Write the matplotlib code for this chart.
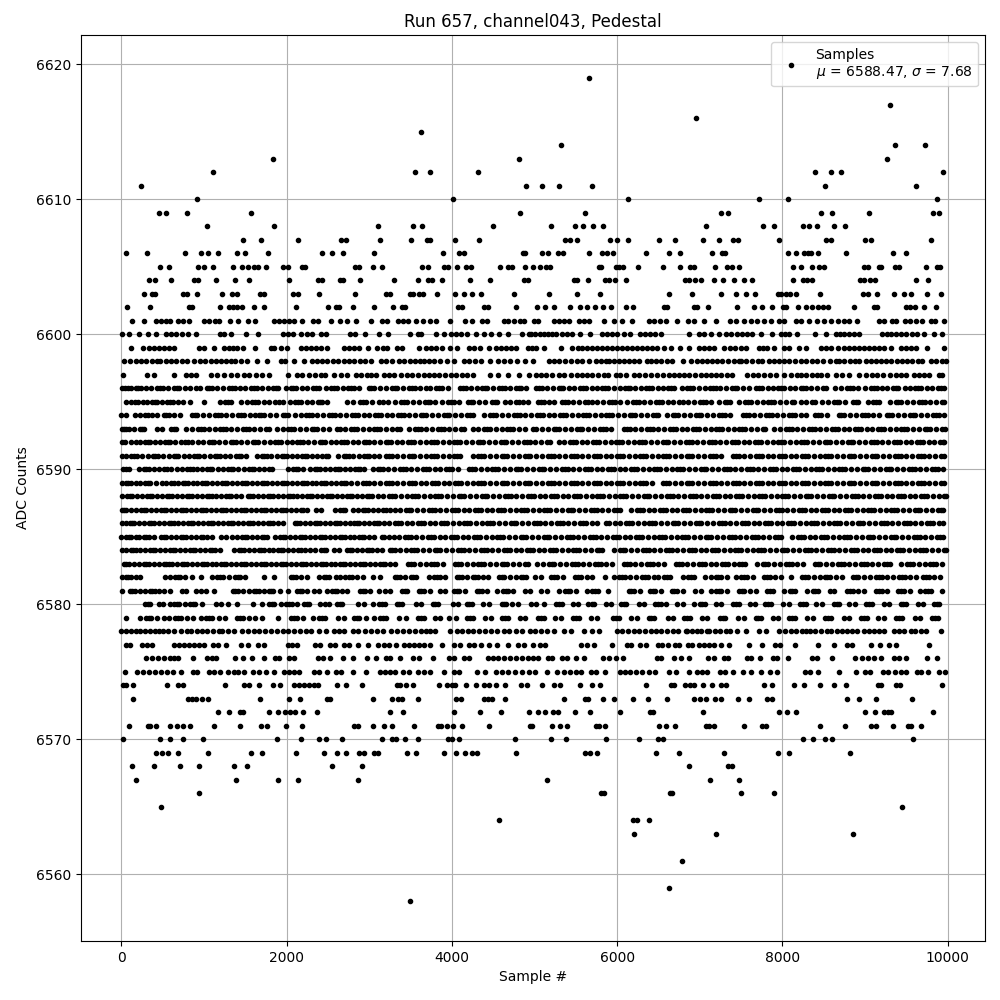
import matplotlib
matplotlib.use("Agg")
import matplotlib.pyplot as plt

# sample numbers, one list per ADC level
adc_6619 = [5660]
adc_6617 = [9300]
adc_6616 = [6950]
adc_6615 = [3620]
adc_6614 = [5320, 9360, 9730]
adc_6613 = [1840, 4810, 9260]
adc_6612 = [1110, 3550, 3740, 4320, 8400, 8590, 8710, 9940]
adc_6611 = [240, 4900, 5090, 5290, 5700, 8520, 9620]
adc_6610 = [916, 4012, 6130, 7717, 8068, 9872]
adc_6609 = [452, 537, 791, 1566, 4823, 5610, 7257, 7341, 8467, 8596, 9053, 9823, 9896]
adc_6608 = [1033, 1845, 3104, 3528, 3637, 4496, 5198, 5489, 5586, 5707, 5828, 7075, 7765, 7898, 8249, 8322, 8419, 8625, 8758]
adc_6607 = [1469, 1687, 2135, 2656, 2717, 3128, 3504, 3697, 3733, 4036, 4327, 5368, 5428, 5513, 5913, 6001, 6130, 6506, 6700, 7039, 7232, 7402, 7462, 7959, 8528, 8588, 9000, 9073, 9799]
adc_6606 = [53, 307, 767, 961, 1046, 1167, 1397, 1494, 1772, 2426, 2547, 2680, 3056, 3891, 4085, 4145, 4860, 4884, 5089, 5162, 5283, 5343, 5658, 5816, 5876, 5949, 6348, 6627, 6760, 7148, 7269, 7305, 8068, 8165, 8262, 8310, 8346, 8431, 8770, 9339, 9497]
adc_6605 = [472, 573, 925, 997, 1106, 1348, 1457, 1530, 1603, 1651, 1748, 1954, 2014, 2184, 2220, 2825, 2874, 3043, 3152, 3637, 3709, 3903, 3951, 4060, 4170, 4230, 4581, 4678, 4727, 4884, 4980, 5065, 5138, 5186, 5779, 5804, 5985, 6022, 6070, 6252, 6554, 6760, 6881, 6930, 7184, 7329, 7390, 7474, 8128, 8225, 8358, 8443, 8504, 8988, 9036, 9170, 9194, 9363, 9412, 9739, 9872, 9908]
adc_6604 = [331, 404, 598, 876, 925, 1142, 1372, 1542, 2026, 2377, 2426, 2644, 2680, 2886, 3298, 3588, 3709, 3758, 3879, 4218, 4460, 4872, 4920, 5477, 5513, 5646, 5852, 5900, 5973, 6106, 6821, 6869, 6942, 7014, 7172, 7281, 7414, 7535, 7632, 8128, 8249, 8298, 8358, 8939, 8988, 9061, 9121, 9618, 9763]
adc_6603 = [271, 368, 404, 743, 791, 912, 1215, 1336, 1397, 1675, 1724, 2075, 2135, 2390, 2825, 3201, 3249, 3491, 3528, 3600, 3649, 3818, 4036, 4145, 4242, 4351, 4751, 5174, 5513, 5791, 6627, 6905, 7257, 7438, 7559, 7668, 7947, 7983, 8044, 8092, 8165, 8455, 8976, 9036, 9146, 9351, 9472, 9557, 9751, 9920]
adc_6602 = [65, 343, 816, 852, 1191, 1300, 1348, 1397, 1457, 1603, 1724, 2111, 2499, 2595, 2632, 2801, 3056, 3286, 3395, 3431, 4072, 4121, 4387, 4436, 4775, 5029, 5126, 5235, 5428, 5549, 5634, 5731, 5828, 5925, 6106, 6191, 6566, 6603, 6930, 6966, 7099, 7450, 7656, 7753, 7874, 8007, 8044, 8189, 8286, 8358, 8431, 8491, 8552, 8867, 9109, 9146, 9497, 9545, 9605, 9715, 9860]
adc_6601 = [125, 271, 416, 477, 537, 586, 682, 743, 816, 997, 1058, 1130, 1179, 1312, 1409, 1530, 1615, 1845, 1905, 1966, 2026, 2087, 2184, 2317, 2377, 2535, 2644, 2729, 2838, 3019, 3152, 3213, 3346, 3407, 3467, 3564, 3649, 3733, 3806, 3976, 4157, 4242, 4363, 4424, 4630, 4678, 4751, 4823, 4872, 4992, 5041, 5235, 5295, 5356, 5416, 5537, 5598, 5658, 5840, 5961, 6058, 6179, 6385, 6445, 6518, 6591, 6724, 6857, 6930, 7051, 7196, 7366, 7438, 7535, 7616, 7696, 7777, 7858, 7959, 8019, 8165, 8225, 8322, 8419, 8504, 8588, 8673, 8746, 8806, 8903, 9170, 9230, 9327, 9376, 9484, 9545, 9618, 9690, 9799, 9848, 9957]
adc_6600 = [12, 85, 210, 319, 416, 537, 598, 658, 731, 803, 900, 1191, 1240, 1324, 1506, 1651, 1954, 2014, 2075, 2172, 2244, 2305, 2414, 2474, 2765, 2826, 2947, 3116, 3225, 3491, 3588, 3625, 3806, 3903, 3984, 4044, 4105, 4186, 4287, 4388, 4468, 4569, 4678, 4847, 4932, 4960, 5010, 5060, 5110, 5160, 5210, 5255, 5335, 5395, 5456, 5549, 5670, 5820, 5880, 5940, 5993, 6082, 6155, 6276, 6336, 6397, 6460, 6534, 6869, 6990, 7051, 7131, 7232, 7313, 7375, 7445, 7515, 7575, 7636, 7737, 7874, 7979, 8030, 8080, 8177, 8395, 8524, 8645, 8700, 8746, 8806, 8870, 8927, 9210, 9260, 9311, 9371, 9440, 9500, 9570, 9634, 9715, 9836, 9937]
adc_6599 = [113, 259, 331, 395, 455, 520, 580, 634, 937, 997, 1118, 1239, 1300, 1355, 1401, 1473, 1618, 1812, 1845, 1925, 2006, 2168, 2230, 2290, 2350, 2420, 2490, 2692, 2750, 2810, 2870, 2983, 3096, 3160, 3217, 3338, 3398, 3600, 3681, 3741, 3810, 3883, 3976, 4065, 4206, 4270, 4340, 4448, 4528, 4590, 4650, 4710, 4771, 4920, 4972, 5012, 5113, 5323, 5456, 5520, 5580, 5640, 5700, 5760, 5820, 5880, 5940, 6000, 6060, 6120, 6180, 6240, 6300, 6360, 6420, 6480, 6566, 6647, 6760, 6869, 6990, 7050, 7110, 7172, 7293, 7360, 7430, 7495, 7555, 7717, 7770, 7818, 7898, 8019, 8080, 8201, 8282, 8463, 8530, 8585, 8673, 8746, 8810, 8870, 8930, 8990, 9050, 9110, 9170, 9230, 9315, 9432, 9500, 9560, 9613, 9751, 9957]
adc_6598 = [29, 109, 170, 235, 300, 365, 432, 472, 540, 600, 665, 735, 795, 876, 945, 1010, 1078, 1138, 1200, 1260, 1320, 1380, 1450, 1522, 1643, 1764, 1925, 1985, 2087, 2208, 2309, 2370, 2430, 2490, 2560, 2625, 2690, 2755, 2820, 2890, 2950, 3015, 3136, 3200, 3277, 3358, 3420, 3490, 3555, 3615, 3665, 3721, 3782, 3860, 3943, 4024, 4145, 4210, 4280, 4347, 4460, 4557, 4630, 4700, 4791, 4880, 4984, 5174, 5240, 5300, 5370, 5440, 5510, 5578, 5658, 5739, 5800, 5860, 5900, 5961, 6020, 6080, 6140, 6203, 6264, 6365, 6405, 6470, 6535, 6600, 6667, 6800, 6889, 6970, 7030, 7090, 7150, 7212, 7273, 7340, 7410, 7474, 7495, 7560, 7630, 7700, 7757, 7838, 7900, 7959, 8019, 8080, 8150, 8220, 8290, 8362, 8423, 8490, 8570, 8645, 8685, 8750, 8820, 8880, 8927, 9008, 9070, 9130, 9190, 9250, 9320, 9390, 9452, 9505, 9573, 9640, 9695, 9795, 9860, 9937, 9977]
adc_6597 = [16, 311, 392, 634, 775, 840, 896, 1078, 1160, 1239, 1320, 1400, 1480, 1542, 1623, 1703, 1784, 2014, 2127, 2188, 2268, 2340, 2410, 2458, 2571, 2652, 2733, 2834, 2900, 2975, 3015, 3080, 3177, 3237, 3300, 3380, 3450, 3520, 3588, 3661, 3720, 3780, 3840, 3920, 3984, 4044, 4120, 4186, 4254, 4460, 4557, 4678, 4811, 4932, 5012, 5075, 5140, 5210, 5295, 5356, 5440, 5517, 5578, 5640, 5700, 5770, 5840, 5888, 5981, 6040, 6102, 6203, 6270, 6340, 6410, 6480, 6550, 6627, 6688, 6748, 6808, 6875, 6940, 7010, 7075, 7131, 7192, 7260, 7330, 7394, 7575, 7640, 7710, 7780, 7850, 7919, 8019, 8100, 8181, 8221, 8290, 8360, 8423, 8463, 8540, 8645, 8725, 8800, 8927, 9008, 9080, 9150, 9220, 9300, 9370, 9432, 9492, 9593, 9650, 9715, 9775, 9896, 9937]
adc_6596 = [5, 45, 110, 170, 235, 300, 360, 430, 500, 560, 640, 700, 770, 830, 900, 950, 1030, 1090, 1160, 1230, 1300, 1370, 1440, 1500, 1570, 1640, 1700, 1770, 1840, 1900, 1990, 2050, 2110, 2180, 2240, 2320, 2390, 2470, 2540, 2610, 2680, 2740, 2810, 2870, 2990, 3060, 3130, 3200, 3270, 3340, 3410, 3480, 3550, 3610, 3680, 3740, 3810, 3880, 3950, 4100, 4170, 4230, 4300, 4360, 4430, 4500, 4570, 4640, 4700, 4770, 4840, 4900, 5020, 5090, 5150, 5220, 5290, 5350, 5420, 5480, 5550, 5620, 5690, 5750, 5820, 5890, 5960, 6030, 6090, 6160, 6220, 6290, 6350, 6420, 6490, 6560, 6620, 6690, 6780, 6850, 6920, 6990, 7060, 7120, 7190, 7250, 7320, 7390, 7450, 7520, 7590, 7680, 7750, 7820, 7890, 7950, 8020, 8090, 8150, 8220, 8290, 8350, 8420, 8490, 8640, 8710, 8780, 8850, 8920, 9000, 9070, 9140, 9200, 9260, 9340, 9400, 9480, 9540, 9610, 9680, 9750, 9810, 9880, 9950]
adc_6595 = [55, 110, 200, 260, 310, 370, 430, 490, 550, 620, 690, 750, 830, 1000, 1190, 1250, 1320, 1450, 1520, 1580, 1650, 1730, 1780, 1860, 1950, 2040, 2100, 2170, 2250, 2310, 2380, 2430, 2490, 2730, 2800, 2890, 2960, 3030, 3120, 3220, 3310, 3380, 3460, 3530, 3600, 3670, 3740, 3800, 3880, 3950, 4020, 4090, 4190, 4260, 4330, 4400, 4480, 4550, 4640, 4700, 4780, 4860, 4920, 5040, 5110, 5170, 5240, 5330, 5400, 5470, 5540, 5610, 5690, 5760, 5830, 5900, 5970, 6040, 6120, 6190, 6260, 6330, 6400, 6470, 6540, 6620, 6680, 6800, 6860, 6930, 7000, 7080, 7140, 7230, 7300, 7370, 7480, 7550, 7620, 7690, 7760, 7830, 7900, 7970, 8040, 8110, 8220, 8290, 8360, 8480, 8550, 8620, 8690, 8760, 8850, 8920, 9030, 9100, 9170, 9300, 9370, 9440, 9510, 9580, 9650, 9720, 9790, 9860, 9930]
adc_6594 = [0, 55, 160, 220, 290, 370, 430, 510, 570, 640, 710, 850, 920, 990, 1060, 1130, 1200, 1270, 1340, 1410, 1480, 1550, 1620, 1660, 1730, 1800, 1870, 1950, 2020, 2100, 2170, 2230, 2300, 2370, 2440, 2510, 2580, 2650, 2720, 2790, 2860, 2930, 3000, 3070, 3140, 3210, 3280, 3350, 3420, 3480, 3550, 3620, 3690, 3760, 3830, 3900, 3970, 4040, 4110, 4180, 4250, 4390, 4460, 4530, 4610, 4680, 4750, 4820, 4890, 4960, 5030, 5100, 5170, 5240, 5310, 5380, 5450, 5520, 5590, 5660, 5730, 5800, 5870, 5940, 6010, 6080, 6150, 6220, 6290, 6360, 6430, 6500, 6600, 6670, 6740, 6810, 6880, 6950, 7020, 7090, 7160, 7230, 7300, 7370, 7520, 7590, 7660, 7730, 7800, 7870, 7940, 8010, 8080, 8150, 8220, 8290, 8400, 8470, 8540, 8680, 8750, 8820, 8890, 8960, 9030, 9100, 9170, 9260, 9330, 9400, 9470, 9540, 9610, 9680, 9750, 9820, 9890, 9950]
adc_6593 = [8, 30, 90, 150, 220, 270, 430, 490, 600, 660, 780, 850, 930, 1000, 1060, 1130, 1190, 1260, 1330, 1400, 1470, 1540, 1610, 1680, 1750, 1880, 1950, 2020, 2090, 2160, 2230, 2300, 2370, 2440, 2510, 2640, 2710, 2780, 2850, 2920, 2990, 3060, 3130, 3200, 3270, 3340, 3480, 3550, 3620, 3690, 3760, 3830, 3900, 3970, 4040, 4110, 4250, 4320, 4390, 4460, 4530, 4600, 4670, 4740, 4810, 4880, 5020, 5090, 5160, 5230, 5300, 5370, 5440, 5510, 5580, 5650, 5720, 5790, 5860, 5930, 6080, 6150, 6220, 6290, 6360, 6430, 6500, 6570, 6640, 6710, 6780, 6850, 6920, 6990, 7060, 7130, 7200, 7270, 7340, 7410, 7480, 7550, 7620, 7690, 7760, 7900, 7970, 8040, 8110, 8180, 8250, 8320, 8390, 8460, 8530, 8600, 8670, 8740, 8810, 8880, 8950, 9020, 9090, 9160, 9230, 9300, 9370, 9440, 9510, 9580, 9650, 9720, 9790, 9860, 9930]
adc_6592 = [4, 40, 170, 230, 290, 350, 410, 470, 530, 590, 650, 720, 770, 850, 930, 990, 1060, 1120, 1180, 1250, 1320, 1390, 1450, 1520, 1590, 1650, 1720, 1800, 1860, 1930, 2000, 2060, 2130, 2200, 2260, 2330, 2400, 2460, 2530, 2600, 2660, 2730, 2800, 2860, 2930, 3000, 3060, 3130, 3200, 3260, 3330, 3400, 3470, 3540, 3610, 3680, 3750, 3820, 3890, 3960, 4030, 4100, 4170, 4240, 4310, 4380, 4450, 4520, 4590, 4660, 4730, 4800, 4870, 4940, 5010, 5080, 5150, 5290, 5360, 5430, 5500, 5570, 5640, 5710, 5780, 5850, 5920, 5990, 6060, 6130, 6200, 6270, 6340, 6410, 6480, 6550, 6620, 6690, 6760, 6830, 6900, 6970, 7040, 7110, 7180, 7250, 7320, 7390, 7460, 7530, 7600, 7670, 7740, 7810, 7880, 7950, 8020, 8090, 8160, 8230, 8300, 8370, 8440, 8510, 8580, 8650, 8720, 8790, 8860, 8930, 9000, 9070, 9140, 9210, 9280, 9350, 9420, 9490, 9560, 9630, 9700, 9770, 9840, 9910, 9960]
adc_6591 = [6, 50, 120, 190, 250, 320, 380, 440, 500, 570, 630, 690, 760, 820, 880, 940, 1000, 1070, 1130, 1190, 1250, 1310, 1390, 1450, 1510, 1640, 1700, 1760, 1810, 1880, 1940, 2000, 2060, 2130, 2190, 2250, 2310, 2370, 2430, 2500, 2620, 2690, 2750, 2800, 2870, 2940, 3000, 3060, 3120, 3200, 3270, 3340, 3410, 3480, 3540, 3610, 3680, 3750, 3820, 3890, 3960, 4030, 4100, 4250, 4320, 4390, 4460, 4530, 4600, 4670, 4740, 4810, 4880, 4950, 5020, 5090, 5160, 5230, 5300, 5370, 5440, 5510, 5580, 5650, 5720, 5790, 5860, 5930, 6000, 6070, 6140, 6210, 6280, 6350, 6420, 6490, 6560, 6630, 6700, 6770, 6840, 6910, 6980, 7050, 7120, 7190, 7260, 7400, 7470, 7540, 7610, 7680, 7750, 7820, 7890, 7960, 8030, 8100, 8170, 8240, 8310, 8380, 8450, 8520, 8590, 8660, 8730, 8800, 8870, 8940, 9010, 9080, 9150, 9220, 9290, 9360, 9430, 9500, 9570, 9640, 9710, 9780, 9850, 9920]
adc_6590 = [20, 90, 210, 270, 330, 390, 450, 510, 600, 670, 730, 790, 860, 920, 980, 1040, 1100, 1170, 1230, 1290, 1350, 1410, 1480, 1540, 1610, 1670, 1730, 1790, 2020, 2080, 2140, 2200, 2280, 2340, 2400, 2460, 2520, 2580, 2650, 2710, 2770, 2830, 2890, 2930, 3040, 3100, 3170, 3230, 3300, 3370, 3440, 3510, 3580, 3650, 3720, 3790, 3860, 3930, 4000, 4070, 4210, 4280, 4350, 4420, 4490, 4560, 4630, 4700, 4770, 4840, 4910, 4980, 5050, 5120, 5190, 5260, 5330, 5400, 5470, 5540, 5610, 5680, 5750, 5820, 5890, 5960, 6030, 6100, 6170, 6240, 6310, 6380, 6450, 6520, 6590, 6660, 6730, 6800, 6870, 6940, 7010, 7080, 7150, 7220, 7290, 7360, 7430, 7500, 7570, 7640, 7710, 7780, 7850, 7920, 7990, 8060, 8130, 8200, 8270, 8340, 8410, 8480, 8550, 8620, 8690, 8760, 8830, 8900, 8970, 9040, 9110, 9180, 9250, 9320, 9390, 9460, 9530, 9600, 9670, 9740, 9810, 9880, 9945]
adc_6589 = [3, 50, 110, 170, 230, 290, 350, 420, 490, 600, 640, 680, 740, 800, 860, 920, 980, 1040, 1100, 1160, 1220, 1280, 1340, 1400, 1460, 1520, 1580, 1640, 1700, 1760, 1820, 1880, 1940, 2000, 2060, 2120, 2180, 2240, 2300, 2360, 2420, 2480, 2540, 2600, 2660, 2720, 2780, 2850, 2920, 2990, 3060, 3130, 3200, 3270, 3340, 3410, 3480, 3550, 3620, 3690, 3760, 3830, 3900, 3970, 4040, 4110, 4180, 4250, 4320, 4390, 4460, 4530, 4600, 4670, 4740, 4810, 4880, 4950, 5020, 5090, 5160, 5230, 5300, 5370, 5440, 5510, 5580, 5650, 5720, 5790, 5860, 5930, 6000, 6070, 6140, 6210, 6280, 6350, 6420, 6560, 6630, 6700, 6770, 6840, 6910, 6980, 7050, 7120, 7190, 7260, 7330, 7400, 7470, 7540, 7610, 7680, 7750, 7820, 7890, 7960, 8030, 8100, 8170, 8240, 8310, 8380, 8450, 8520, 8590, 8660, 8730, 8800, 8870, 8940, 9010, 9080, 9150, 9220, 9290, 9360, 9430, 9500, 9570, 9640, 9710, 9780, 9850, 9920]
adc_6588 = [10, 70, 130, 190, 250, 310, 370, 430, 490, 550, 610, 670, 730, 790, 850, 910, 970, 1030, 1090, 1150, 1210, 1270, 1330, 1390, 1450, 1530, 1590, 1650, 1710, 1770, 1830, 1890, 1950, 2010, 2070, 2130, 2190, 2250, 2310, 2370, 2430, 2490, 2550, 2610, 2670, 2730, 2790, 2850, 2910, 2970, 3030, 3100, 3170, 3240, 3310, 3380, 3450, 3520, 3590, 3660, 3730, 3800, 3870, 3940, 4010, 4080, 4150, 4220, 4290, 4360, 4430, 4500, 4570, 4640, 4710, 4780, 4850, 4920, 4990, 5060, 5130, 5200, 5270, 5340, 5410, 5480, 5550, 5620, 5690, 5760, 5830, 5900, 5970, 6040, 6110, 6180, 6250, 6320, 6390, 6460, 6530, 6600, 6670, 6740, 6810, 6880, 6950, 7020, 7090, 7160, 7230, 7300, 7370, 7440, 7510, 7580, 7650, 7720, 7790, 7860, 7930, 8000, 8070, 8140, 8210, 8280, 8350, 8420, 8490, 8560, 8630, 8700, 8770, 8840, 8910, 8980, 9050, 9120, 9190, 9260, 9330, 9400, 9470, 9540, 9610, 9680, 9750, 9820, 9890, 9950]
adc_6587 = [2, 60, 120, 180, 240, 300, 360, 420, 480, 540, 600, 660, 720, 780, 840, 900, 960, 1020, 1080, 1140, 1200, 1260, 1320, 1390, 1450, 1510, 1570, 1630, 1690, 1750, 1810, 1870, 1930, 1990, 2050, 2110, 2170, 2240, 2350, 2420, 2590, 2650, 2710, 2800, 2860, 2920, 2980, 3040, 3100, 3160, 3250, 3310, 3370, 3440, 3510, 3580, 3650, 3720, 3790, 3860, 3930, 4000, 4070, 4140, 4210, 4280, 4350, 4420, 4490, 4560, 4630, 4700, 4770, 4840, 4910, 4980, 5050, 5120, 5190, 5260, 5330, 5400, 5470, 5540, 5610, 5680, 5750, 5820, 5890, 5960, 6030, 6170, 6240, 6310, 6380, 6450, 6520, 6590, 6660, 6730, 6800, 6870, 6940, 7010, 7080, 7150, 7220, 7290, 7360, 7430, 7500, 7570, 7640, 7710, 7780, 7850, 7920, 7990, 8060, 8130, 8200, 8270, 8340, 8410, 8480, 8550, 8620, 8690, 8760, 8830, 8900, 8970, 9040, 9110, 9180, 9250, 9320, 9390, 9460, 9530, 9600, 9670, 9740, 9810, 9880, 9940]
adc_6586 = [7, 60, 100, 150, 210, 270, 330, 390, 450, 510, 570, 630, 690, 750, 810, 870, 930, 990, 1050, 1110, 1170, 1230, 1290, 1350, 1410, 1470, 1530, 1590, 1650, 1710, 1770, 1830, 1890, 1950, 2100, 2160, 2220, 2280, 2340, 2400, 2460, 2520, 2580, 2640, 2700, 2760, 2820, 2880, 2940, 3000, 3060, 3120, 3180, 3240, 3310, 3380, 3450, 3520, 3590, 3660, 3730, 3800, 3870, 3940, 4010, 4080, 4150, 4220, 4290, 4360, 4430, 4500, 4570, 4640, 4710, 4780, 4850, 4920, 4990, 5060, 5130, 5200, 5270, 5340, 5410, 5480, 5550, 5620, 5690, 5760, 5900, 5970, 6040, 6110, 6180, 6250, 6320, 6390, 6460, 6530, 6600, 6670, 6740, 6810, 6880, 6950, 7020, 7090, 7160, 7230, 7300, 7370, 7440, 7510, 7580, 7650, 7720, 7790, 7860, 7930, 8000, 8070, 8140, 8210, 8280, 8350, 8420, 8490, 8560, 8630, 8700, 8770, 8840, 8910, 8980, 9050, 9120, 9190, 9260, 9330, 9400, 9470, 9540, 9610, 9680, 9750, 9820, 9890, 9945]
adc_6585 = [0, 60, 120, 180, 210, 270, 330, 390, 480, 540, 600, 660, 720, 780, 840, 900, 960, 1040, 1100, 1200, 1260, 1340, 1400, 1460, 1520, 1580, 1640, 1700, 1760, 1860, 1920, 1980, 2040, 2100, 2160, 2220, 2280, 2340, 2400, 2460, 2520, 2580, 2640, 2700, 2760, 2820, 2880, 2940, 3000, 3060, 3180, 3240, 3300, 3360, 3430, 3500, 3570, 3640, 3710, 3780, 3850, 3920, 3990, 4060, 4130, 4200, 4270, 4340, 4410, 4480, 4550, 4620, 4690, 4760, 4830, 4900, 4970, 5040, 5110, 5180, 5250, 5320, 5390, 5460, 5530, 5600, 5670, 5740, 5810, 5880, 5950, 6020, 6090, 6160, 6230, 6300, 6370, 6440, 6510, 6580, 6650, 6720, 6790, 6860, 6930, 7000, 7070, 7140, 7210, 7280, 7350, 7420, 7490, 7560, 7630, 7700, 7770, 7840, 7910, 7980, 8120, 8190, 8260, 8330, 8400, 8470, 8540, 8610, 8680, 8750, 8820, 8890, 8960, 9030, 9100, 9170, 9240, 9310, 9380, 9450, 9520, 9590, 9660, 9730, 9800, 9870, 9940]
adc_6584 = [5, 50, 110, 170, 230, 290, 350, 410, 470, 530, 590, 650, 710, 770, 830, 890, 950, 1010, 1070, 1130, 1190, 1360, 1420, 1480, 1540, 1600, 1660, 1720, 1780, 1840, 1900, 1960, 2020, 2080, 2140, 2220, 2280, 2340, 2420, 2480, 2570, 2630, 2730, 2790, 2850, 2910, 2970, 3030, 3090, 3150, 3250, 3310, 3370, 3440, 3510, 3580, 3650, 3720, 3790, 3860, 3930, 4000, 4070, 4140, 4210, 4280, 4350, 4420, 4490, 4560, 4630, 4700, 4770, 4840, 4910, 4980, 5050, 5120, 5190, 5260, 5330, 5400, 5470, 5540, 5610, 5680, 5750, 5820, 5960, 6030, 6100, 6170, 6240, 6310, 6380, 6450, 6520, 6590, 6660, 6730, 6800, 6870, 6940, 7010, 7080, 7150, 7220, 7290, 7360, 7430, 7500, 7570, 7640, 7710, 7780, 7850, 7920, 7990, 8060, 8130, 8200, 8270, 8340, 8410, 8480, 8550, 8620, 8690, 8760, 8830, 8900, 8970, 9040, 9110, 9180, 9250, 9320, 9390, 9460, 9530, 9600, 9670, 9740, 9810, 9880, 9950]
adc_6583 = [30, 90, 150, 210, 270, 330, 390, 450, 510, 570, 610, 670, 730, 790, 850, 910, 970, 1030, 1090, 1150, 1210, 1270, 1330, 1390, 1450, 1510, 1570, 1630, 1690, 1750, 1810, 1870, 1930, 1990, 2050, 2110, 2170, 2230, 2290, 2350, 2410, 2470, 2530, 2590, 2650, 2710, 2770, 2830, 2890, 2950, 3010, 3070, 3130, 3190, 3250, 3310, 3470, 3540, 3610, 3680, 3750, 3820, 3890, 4040, 4110, 4180, 4250, 4320, 4390, 4460, 4530, 4600, 4670, 4740, 4810, 4880, 5030, 5100, 5170, 5240, 5310, 5380, 5450, 5520, 5590, 5660, 5730, 5800, 5870, 5940, 6080, 6150, 6220, 6290, 6360, 6430, 6500, 6570, 6710, 6780, 6850, 6920, 6990, 7060, 7130, 7200, 7270, 7340, 7410, 7480, 7550, 7690, 7760, 7830, 7900, 7970, 8040, 8110, 8180, 8250, 8390, 8460, 8530, 8600, 8670, 8740, 8810, 8880, 8950, 9020, 9090, 9160, 9230, 9300, 9440, 9510, 9580, 9650, 9720, 9790, 9860, 9930]
adc_6582 = [10, 50, 110, 170, 230, 530, 590, 650, 710, 770, 850, 960, 1090, 1160, 1230, 1300, 1370, 1440, 1500, 1730, 1850, 2050, 2110, 2170, 2240, 2390, 2450, 2510, 2600, 2650, 2710, 2790, 2850, 2920, 3050, 3130, 3310, 3370, 3430, 3500, 3560, 3720, 3780, 3850, 3910, 4060, 4120, 4180, 4250, 4320, 4380, 4440, 4570, 4630, 4700, 4770, 4830, 4900, 5010, 5080, 5200, 5270, 5340, 5490, 5560, 5640, 5700, 5850, 5960, 6020, 6090, 6160, 6230, 6300, 6370, 6440, 6500, 6570, 6640, 6800, 6860, 6930, 7060, 7130, 7190, 7260, 7330, 7440, 7500, 7570, 7640, 7780, 7850, 7910, 7980, 8100, 8240, 8310, 8380, 8450, 8510, 8580, 8650, 8720, 8850, 8920, 8990, 9060, 9130, 9200, 9270, 9340, 9410, 9480, 9550, 9620, 9700, 9770, 9840, 9910]
adc_6581 = [8, 100, 160, 220, 280, 340, 400, 460, 520, 590, 730, 780, 900, 960, 1020, 1120, 1350, 1410, 1470, 1540, 1600, 1660, 1720, 1780, 1840, 1920, 2010, 2120, 2190, 2250, 2330, 2390, 2490, 2550, 2610, 2670, 2730, 2890, 2950, 3010, 3120, 3190, 3250, 3400, 3460, 3600, 3660, 3730, 3850, 3910, 4030, 4090, 4160, 4300, 4360, 4430, 4550, 4620, 4680, 4740, 4880, 4950, 5080, 5150, 5300, 5370, 5430, 5500, 5630, 5700, 5770, 5890, 6140, 6200, 6280, 6400, 6460, 6530, 6660, 6720, 6800, 6940, 7010, 7130, 7200, 7260, 7330, 7480, 7540, 7610, 7680, 7810, 7880, 8020, 8090, 8150, 8300, 8370, 8430, 8570, 8630, 8780, 8850, 8920, 8990, 9130, 9200, 9260, 9400, 9470, 9540, 9670, 9730, 9800, 9930]
adc_6580 = [290, 350, 450, 500, 590, 640, 700, 770, 830, 890, 970, 1140, 1210, 1290, 1400, 1590, 1700, 1790, 1850, 1930, 1990, 2060, 2130, 2210, 2270, 2400, 2460, 2510, 2610, 2670, 2860, 2930, 3050, 3120, 3190, 3330, 3400, 3560, 3630, 3770, 3830, 4010, 4070, 4180, 4240, 4380, 4450, 4600, 4660, 4730, 4800, 4960, 5020, 5120, 5260, 5330, 5460, 5520, 5650, 5720, 5860, 5930, 6050, 6110, 6260, 6330, 6460, 6530, 6590, 6730, 6800, 6930, 7000, 7060, 7200, 7260, 7400, 7470, 7610, 7670, 7790, 7860, 8010, 8080, 8210, 8280, 8410, 8480, 8620, 8690, 8810, 8880, 9010, 9080, 9230, 9290, 9430, 9500, 9640, 9700, 9830, 9900]
adc_6579 = [50, 230, 300, 360, 430, 510, 570, 650, 720, 790, 870, 960, 1020, 1100, 1180, 1250, 1400, 1470, 1540, 1620, 1700, 1900, 2050, 2120, 2200, 2320, 2390, 2460, 2620, 2690, 2810, 2880, 2960, 3060, 3130, 3200, 3360, 3440, 3590, 3660, 3790, 3850, 3970, 4050, 4180, 4250, 4400, 4470, 4600, 4680, 4820, 4890, 5040, 5110, 5250, 5320, 5470, 5540, 5680, 5750, 5950, 6020, 6170, 6240, 6380, 6450, 6610, 6670, 6810, 6880, 7030, 7090, 7240, 7310, 7460, 7530, 7680, 7740, 7880, 7950, 8080, 8150, 8300, 8370, 8520, 8590, 8740, 8810, 8950, 9020, 9160, 9230, 9380, 9450, 9600, 9670, 9810, 9880]
adc_6578 = [0, 50, 110, 170, 230, 290, 350, 400, 450, 500, 560, 630, 715, 795, 845, 915, 975, 1040, 1110, 1180, 1220, 1290, 1360, 1460, 1530, 1600, 1670, 1740, 1810, 1880, 1950, 2020, 2090, 2160, 2230, 2290, 2390, 2480, 2570, 2630, 2690, 2800, 2860, 2950, 3020, 3090, 3170, 3260, 3340, 3410, 3480, 3550, 3620, 3680, 3740, 3800, 3976, 4065, 4125, 4190, 4260, 4330, 4400, 4470, 4550, 4630, 4690, 4770, 4850, 4950, 5010, 5080, 5150, 5235, 5356, 5436, 5598, 5700, 5779, 6001, 6062, 6130, 6200, 6270, 6340, 6405, 6465, 6530, 6600, 6670, 6740, 6830, 6850, 6910, 6970, 7010, 7090, 7111, 7180, 7250, 7313, 7366, 7454, 7559, 7717, 7801, 7959, 8030, 8100, 8170, 8240, 8282, 8334, 8400, 8470, 8544, 8585, 8665, 8725, 8786, 8847, 8907, 8988, 9050, 9110, 9170, 9230, 9351, 9410, 9472, 9553, 9610, 9674, 9735, 9916]
adc_6577 = [53, 101, 246, 307, 368, 634, 694, 755, 816, 876, 937, 997, 1106, 1167, 1264, 1441, 1530, 1651, 1724, 2014, 2063, 2123, 2341, 2402, 2523, 2583, 2692, 2753, 2862, 2983, 3104, 3177, 3237, 3322, 3419, 3479, 3540, 3600, 3661, 3733, 3879, 4024, 4097, 4206, 4266, 4351, 4448, 4545, 4678, 4799, 4872, 4980, 5065, 5126, 5561, 5634, 5719, 5937, 6118, 6167, 6276, 6348, 6494, 6542, 6615, 6700, 6748, 6857, 6905, 6990, 7051, 7111, 7172, 7257, 7353, 7596, 7753, 7910, 7971, 8153, 8431, 8625, 8782, 8843, 9073, 9182, 9290, 9376, 9775]
adc_6576 = [295, 367, 440, 513, 585, 634, 682, 864, 1034, 1094, 1142, 1372, 1473, 1578, 1724, 1857, 1905, 2026, 2087, 2377, 2438, 2523, 2680, 2801, 2971, 3080, 3201, 3249, 3370, 3528, 3600, 3770, 3964, 4024, 4145, 4206, 4436, 4496, 4557, 4630, 4702, 4775, 4847, 4920, 4980, 5041, 5162, 5210, 5331, 5392, 5501, 5598, 5828, 5900, 5985, 6070, 6482, 6530, 6688, 6772, 6869, 7099, 7172, 7293, 7341, 7571, 7620, 7729, 7886, 7935, 8068, 8358, 8419, 8600, 8879, 8964, 9036, 9109, 9194, 9351, 9412, 9497, 9751, 9872]
adc_6575 = [40, 186, 259, 331, 404, 477, 549, 622, 719, 864, 912, 1058, 1118, 1191, 1288, 1360, 1409, 1482, 1590, 1663, 1748, 1845, 1966, 2026, 2087, 2147, 2329, 2390, 2487, 2595, 2656, 2801, 2959, 3128, 3189, 3249, 3310, 3407, 3479, 3588, 3661, 3733, 3903, 4024, 4085, 4303, 4399, 4533, 4605, 4678, 4763, 4847, 4932, 5004, 5150, 5271, 5356, 5428, 5501, 5561, 5682, 5743, 5852, 6034, 6094, 6155, 6227, 6300, 6385, 6457, 6627, 6712, 6869, 6966, 7027, 7087, 7244, 7305, 7402, 7523, 7620, 7741, 7850, 7935, 8274, 8334, 8431, 8685, 8891, 9000, 9061, 9218, 9278, 9363, 9436, 9497, 9630, 9678, 9763, 9896, 9969]
adc_6574 = [16, 53, 137, 549, 682, 743, 1251, 1482, 1542, 1663, 1832, 1917, 2087, 2147, 2208, 2268, 2329, 2377, 2608, 2717, 2910, 3334, 3370, 3443, 3528, 3843, 3939, 4000, 4036, 4170, 4290, 4387, 4448, 4533, 4642, 4835, 4908, 5089, 5235, 5307, 5549, 5695, 5791, 6348, 6651, 6688, 6821, 6881, 6930, 7039, 7148, 7257, 7317, 7777, 7874, 8140, 8261, 8455, 8625, 8770, 9157, 9194, 9376, 9424, 9932]
adc_6573 = [137, 803, 852, 900, 973, 1046, 1675, 2026, 2160, 2487, 2523, 3043, 3274, 3346, 3395, 3588, 4048, 4109, 4387, 4436, 4484, 4642, 5356, 5610, 5646, 5828, 5961, 6191, 6373, 6603, 6930, 7002, 7075, 7184, 7257, 7462, 7596, 7813, 7874, 8782, 8927, 9133, 9569]
adc_6572 = [1167, 1300, 1433, 1469, 1784, 1893, 1978, 2038, 2099, 2196, 2365, 3249, 3407, 4024, 4339, 4593, 4932, 5041, 5126, 5222, 5283, 5489, 5670, 6034, 6397, 6433, 7039, 7959, 8056, 8165, 9000, 9121, 9230, 9278, 9315, 9823]
adc_6571 = [89, 319, 343, 416, 586, 670, 743, 828, 1118, 1433, 1687, 1760, 1990, 2184, 2813, 2862, 3043, 3177, 3274, 3540, 3830, 3867, 3939, 4012, 4121, 4448, 4944, 4968, 5210, 5307, 5392, 5743, 5779, 5852, 6506, 6591, 6700, 7075, 7111, 7172, 7531, 7753, 7801, 8455, 8758, 9073, 9133, 9339, 9521, 9557, 9678]
adc_6570 = [16, 464, 586, 743, 985, 1881, 2172, 2390, 2474, 2668, 3152, 3274, 3322, 3431, 3588, 3952, 4000, 4085, 4763, 5198, 5380, 5864, 6264, 6494, 6554, 8249, 8370, 8516, 8600, 9581]
adc_6569 = [416, 489, 561, 682, 1046, 1566, 1699, 2111, 2450, 2608, 2717, 2874, 2934, 3056, 3104, 3455, 3564, 3903, 4048, 4157, 4242, 4303, 4775, 5610, 5670, 5755, 6470, 6748, 7293, 7947, 8080, 8818]
adc_6568 = [125, 392, 707, 937, 1360, 1518, 2547, 2910, 6869, 7341, 7390]
adc_6567 = [174, 1385, 1893, 2135, 2862, 5150, 7123, 7475]
adc_6566 = [937, 5804, 5840, 6640, 6663, 7499, 7898]
adc_6565 = [476, 9448]
adc_6564 = [4569, 6191, 6244, 6385]
adc_6563 = [6200, 7190, 8860]
adc_6561 = [6790]
adc_6559 = [6630]
adc_6558 = [3490]

# second reading of the busiest levels, where dots run together
more_6596 = [80, 205, 465, 670, 1060, 1335, 1605, 1870, 2080, 2355, 2575, 2775, 3025, 3305, 3515, 3845, 4135, 4395, 4605, 4810, 5055, 5315, 5585, 5855, 6125, 6385, 6655, 6885, 7155, 7420, 7715, 7985, 8255, 8525, 8815, 9105, 9370, 9645, 9915]
more_6595 = [165, 400, 590, 1285, 1615, 1905, 2135, 2405, 2925, 3170, 3415, 3705, 3985, 4225, 4515, 4815, 5075, 5365, 5650, 5935, 6225, 6505, 6745, 7040, 7335, 7585, 7865, 8145, 8395, 8655, 8885, 9135, 9405, 9685, 9960]
more_6594 = [325, 540, 885, 1165, 1445, 1690, 1985, 2265, 2545, 2825, 3105, 3385, 3655, 3935, 4215, 4495, 4785, 5065, 5345, 5625, 5905, 6185, 6465, 6705, 6985, 7265, 7555, 7835, 8115, 8435, 8715, 8995, 9295, 9575, 9855]
more_6593 = [60, 250, 630, 965, 1230, 1505, 1785, 2055, 2335, 2610, 2815, 3095, 3375, 3585, 3865, 4145, 4425, 4705, 4985, 5265, 5545, 5825, 6115, 6395, 6675, 6955, 7235, 7515, 7795, 8075, 8355, 8635, 8915, 9195, 9475, 9755, 9970]
more_6592 = [110, 320, 560, 810, 1090, 1355, 1620, 1895, 2165, 2430, 2695, 2965, 3230, 3505, 3785, 4065, 4345, 4625, 4905, 5185, 5465, 5745, 6025, 6305, 6585, 6865, 7145, 7425, 7705, 7985, 8265, 8545, 8825, 9105, 9385, 9665, 9945]
more_6591 = [155, 410, 660, 910, 1160, 1420, 1730, 1970, 2220, 2470, 2720, 2970, 3235, 3515, 3785, 4065, 4355, 4635, 4915, 5195, 5475, 5755, 6035, 6315, 6595, 6875, 7155, 7435, 7715, 7995, 8275, 8555, 8835, 9115, 9395, 9675, 9955]
more_6590 = [55, 300, 545, 825, 1070, 1320, 1575, 1825, 2110, 2370, 2615, 2860, 3135, 3405, 3685, 3965, 4245, 4525, 4805, 5085, 5365, 5645, 5925, 6205, 6485, 6765, 7045, 7325, 7605, 7885, 8165, 8445, 8725, 9005, 9285, 9565, 9845]
more_6589 = [80, 320, 540, 770, 1010, 1250, 1490, 1730, 1970, 2210, 2450, 2690, 2955, 3235, 3515, 3795, 4075, 4355, 4635, 4915, 5195, 5475, 5755, 6035, 6315, 6595, 6875, 7155, 7435, 7715, 7995, 8275, 8555, 8835, 9115, 9395, 9675, 9955]
more_6588 = [100, 340, 580, 820, 1060, 1300, 1560, 1800, 2040, 2280, 2520, 2760, 3000, 3275, 3555, 3835, 4115, 4395, 4675, 4955, 5235, 5515, 5795, 6075, 6355, 6635, 6915, 7195, 7475, 7755, 8035, 8315, 8595, 8875, 9155, 9435, 9715, 9975]
more_6587 = [30, 270, 510, 750, 990, 1230, 1480, 1720, 1960, 2200, 2680, 2950, 3205, 3475, 3755, 4035, 4315, 4595, 4875, 5155, 5435, 5715, 5995, 6275, 6555, 6835, 7115, 7395, 7675, 7955, 8235, 8515, 8795, 9075, 9355, 9635, 9915]
more_6586 = [125, 360, 600, 840, 1080, 1320, 1560, 1800, 2130, 2370, 2610, 2850, 3090, 3345, 3625, 3905, 4185, 4465, 4745, 5025, 5305, 5585, 5865, 6145, 6425, 6705, 6985, 7265, 7545, 7825, 8105, 8385, 8665, 8945, 9225, 9505, 9785]
more_6585 = [90, 300, 510, 750, 990, 1490, 1730, 1950, 2190, 2430, 2670, 2910, 3150, 3465, 3745, 4025, 4305, 4585, 4865, 5145, 5425, 5705, 5985, 6265, 6545, 6825, 7105, 7385, 7665, 7945, 8225, 8505, 8785, 9065, 9345, 9625, 9905]
more_6584 = [140, 380, 620, 860, 1100, 1450, 1690, 1930, 2170, 2450, 2760, 3000, 3280, 3545, 3825, 4105, 4385, 4665, 4945, 5225, 5505, 5785, 6065, 6345, 6625, 6905, 7185, 7465, 7745, 8025, 8305, 8585, 8865, 9145, 9425, 9705, 9975]
more_6583 = [60, 300, 540, 760, 1000, 1240, 1480, 1720, 1960, 2200, 2440, 2680, 2920, 3160, 3505, 3785, 4075, 4355, 4635, 4915, 5205, 5485, 5765, 6115, 6395, 6745, 7025, 7305, 7515, 7795, 8075, 8425, 8705, 8985, 9265, 9545, 9825]
more_6582 = [80, 680, 1195, 1405, 2080, 2480, 2755, 3340, 3530, 3815, 4090, 4285, 4600, 4865, 5235, 5525, 6055, 6335, 6600, 6895, 7225, 7535, 7815, 8275, 8545, 8885, 9165, 9445, 9735]
more_6581 = [130, 370, 1380, 1630, 1810, 2160, 2580, 2920, 3430, 3630, 4060, 4330, 4650, 5400, 5735, 6170, 6430, 6690, 7230, 7510, 7850, 8120, 8400, 8815, 9165, 9435, 9765]
more_6580 = [320, 670, 860, 1820, 2030, 2240, 2640, 3155, 3365, 3800, 4210, 4630, 5295, 5690, 6080, 6495, 7030, 7435, 7825, 8245, 8655, 9045, 9465, 9865]
more_6579 = [330, 680, 1060, 1435, 2085, 2425, 2845, 3165, 3625, 4215, 4645, 5075, 5505, 5985, 6415, 6845, 7275, 7710, 8115, 8555, 8985, 9415, 9845]

levels = [
    (6619, adc_6619), (6617, adc_6617), (6616, adc_6616), (6615, adc_6615), (6614, adc_6614),
    (6613, adc_6613), (6612, adc_6612), (6611, adc_6611), (6610, adc_6610), (6609, adc_6609),
    (6608, adc_6608), (6607, adc_6607), (6606, adc_6606), (6605, adc_6605), (6604, adc_6604),
    (6603, adc_6603), (6602, adc_6602), (6601, adc_6601), (6600, adc_6600), (6599, adc_6599),
    (6598, adc_6598), (6597, adc_6597), (6596, adc_6596), (6595, adc_6595), (6594, adc_6594),
    (6593, adc_6593), (6592, adc_6592), (6591, adc_6591), (6590, adc_6590), (6589, adc_6589),
    (6588, adc_6588), (6587, adc_6587), (6586, adc_6586), (6585, adc_6585), (6584, adc_6584),
    (6583, adc_6583), (6582, adc_6582), (6581, adc_6581), (6580, adc_6580), (6579, adc_6579),
    (6578, adc_6578), (6577, adc_6577), (6576, adc_6576), (6575, adc_6575), (6574, adc_6574),
    (6573, adc_6573), (6572, adc_6572), (6571, adc_6571), (6570, adc_6570), (6569, adc_6569),
    (6568, adc_6568), (6567, adc_6567), (6566, adc_6566), (6565, adc_6565), (6564, adc_6564),
    (6563, adc_6563), (6561, adc_6561), (6559, adc_6559), (6558, adc_6558),
    (6596, more_6596), (6595, more_6595), (6594, more_6594), (6593, more_6593), (6592, more_6592),
    (6591, more_6591), (6590, more_6590), (6589, more_6589), (6588, more_6588), (6587, more_6587),
    (6586, more_6586), (6585, more_6585), (6584, more_6584), (6583, more_6583), (6582, more_6582),
    (6581, more_6581), (6580, more_6580), (6579, more_6579),
]

samples = []
counts = []
for level, xs in levels:
    samples.extend(xs)
    counts.extend([level] * len(xs))

fig, ax = plt.subplots(figsize=(10, 10), dpi=100)
ax.plot(samples, counts, 'k.', label="Samples\n$\\mu$ = 6588.47, $\\sigma$ = 7.68")
ax.set_xlim(-490, 10452)
ax.set_ylim(6555.04, 6622.15)
ax.set_title("Run 657, channel043, Pedestal")
ax.set_xlabel("Sample #")
ax.set_ylabel("ADC Counts")
ax.grid(True)
ax.legend(loc="upper right")
fig.subplots_adjust(left=0.081, right=0.985, top=0.965, bottom=0.059)
fig.savefig("out.png")
